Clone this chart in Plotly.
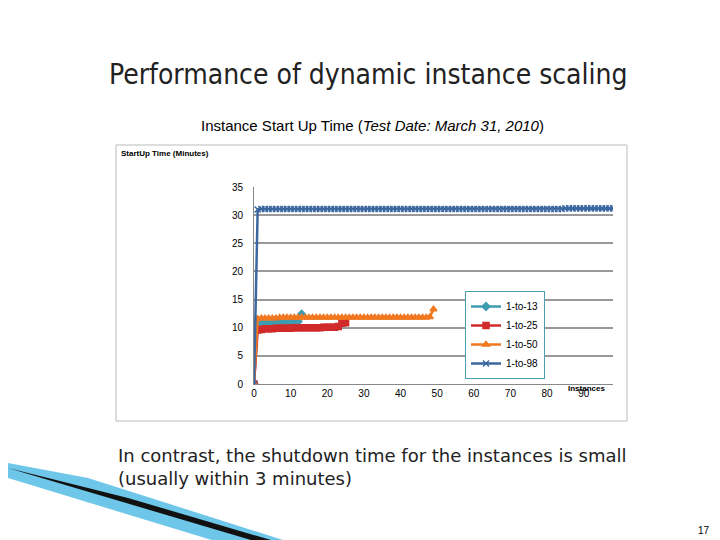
import plotly.graph_objects as go

x13 = list(range(0, 14))
y13 = [0, 10.6, 10.7, 10.7, 10.8, 10.8, 10.8, 10.9, 10.9, 10.9, 11.0, 11.0, 11.1, 12.4]
x25 = list(range(0, 26))
y25 = [0, 9.6, 9.7, 9.8, 9.8, 9.8, 9.9, 9.9, 9.9, 9.9, 9.9, 10.0, 10.0, 10.0, 10.0, 10.0,
       10.0, 10.0, 10.0, 10.1, 10.1, 10.1, 10.1, 10.2, 10.8, 10.9]
x50 = list(range(0, 50))
y50 = [0, 11.6, 11.7, 11.7, 11.7, 11.7, 11.7, 11.8, 11.8, 11.8, 11.8, 11.8, 11.8, 11.8, 11.8, 11.8,
       11.8, 11.8, 11.8, 11.8, 11.8, 11.8, 11.8, 11.8, 11.8, 11.8, 11.8, 11.8, 11.8, 11.8, 11.8,
       11.8, 11.8, 11.8, 11.8, 11.8, 11.8, 11.8, 11.8, 11.8, 11.8, 11.8, 11.8, 11.8, 11.8, 11.8,
       11.8, 11.8, 11.9, 13.3]
x98 = list(range(0, 99))
y98 = [0, 31.0, 31.1, 31.1, 31.1, 31.1, 31.1, 31.1, 31.1, 31.1,
       31.1, 31.1, 31.1, 31.1, 31.1, 31.1, 31.1, 31.1, 31.1, 31.1,
       31.1, 31.1, 31.1, 31.1, 31.1, 31.1, 31.1, 31.1, 31.1, 31.1,
       31.1, 31.1, 31.1, 31.1, 31.1, 31.1, 31.1, 31.1, 31.1, 31.1,
       31.1, 31.1, 31.1, 31.1, 31.1, 31.1, 31.1, 31.1, 31.1, 31.1,
       31.1, 31.1, 31.1, 31.1, 31.1, 31.1, 31.1, 31.1, 31.1, 31.1,
       31.1, 31.1, 31.1, 31.1, 31.1, 31.1, 31.1, 31.1, 31.1, 31.1,
       31.1, 31.1, 31.1, 31.1, 31.1, 31.1, 31.1, 31.1, 31.1, 31.1,
       31.1, 31.1, 31.1, 31.1, 31.1, 31.2, 31.2, 31.2, 31.2, 31.2,
       31.2, 31.2, 31.2, 31.2, 31.2, 31.2, 31.2, 31.2, 31.2]

series = [
    ("1-to-13", x13, y13, "#3F9CB0", "diamond"),
    ("1-to-25", x25, y25, "#D02A2A", "square"),
    ("1-to-50", x50, y50, "#F07820", "triangle-up"),
    ("1-to-98", x98, y98, "#3C67A0", "x-thin-open"),
]

fig = go.Figure()
for name, xs, ys, c, sym in series:
    fig.add_trace(go.Scatter(x=xs, y=ys, name=name, mode="lines+markers",
                             line=dict(color=c, width=2.5),
                             marker=dict(symbol=sym, size=6, color=c, line=dict(color=c, width=1.5))))

W, H = 720, 540
def px(x): return x / W
def py(y): return 1 - y / H

def ann(text, x, y, size, xanchor="center", yanchor="middle", **kw):
    return dict(text=text, x=px(x), y=py(y), xref="paper", yref="paper", showarrow=False,
                xanchor=xanchor, yanchor=yanchor, font=dict(size=size, **kw.pop("font", {})), **kw)

fig.update_layout(
    width=W, height=H, margin=dict(l=0, r=0, t=0, b=0, autoexpand=False),
    paper_bgcolor="white", plot_bgcolor="white",
    font=dict(family="Liberation Sans", color="black"),
    xaxis=dict(domain=[px(246), px(605)], range=[0, 98], tickvals=[0, 10, 20, 30, 40, 50, 60, 70, 80, 90],
               showgrid=False, showline=True, linecolor="#888", ticks="", tickfont=dict(size=10),
               automargin=False),
    yaxis=dict(domain=[py(376), py(179)], range=[0, 35], dtick=5, showgrid=True, gridcolor="#999",
               gridwidth=1.5, showline=True, linecolor="#888", tickfont=dict(size=10), ticklabelstandoff=8,
               automargin=False),
    legend=dict(x=px(457), y=py(283), xanchor="left", yanchor="top", bordercolor="#4AA0B0",
                borderwidth=1, bgcolor="white", font=dict(size=10), tracegroupgap=2),
    shapes=[
        dict(type="rect", xref="paper", yref="paper", x0=px(108), x1=px(619), y0=py(413), y1=py(137),
             line=dict(color="#BBB", width=1)),
        dict(type="path", xref="paper", yref="paper",
             path=f"M {px(0)} {py(455)} L {px(80)} {py(470)} L {px(300)} {py(540)} L {px(230)} {py(540)} L {px(0)} {py(470)} Z",
             fillcolor="#6EC6E8", line=dict(width=0)),
        dict(type="path", xref="paper", yref="paper",
             path=f"M {px(0)} {py(460)} L {px(120)} {py(490)} L {px(290)} {py(540)} L {px(270)} {py(540)} Z",
             fillcolor="#111", line=dict(width=0)),
    ],
    annotations=[
        ann("Performance of dynamic instance scaling", 360, 66, 28, font=dict(family="DejaVu Sans Condensed", color="#222")),
        ann("Instance Start Up Time (<i>Test Date: March 31, 2010</i>)", 364, 117, 15),
        ann("<b>StartUp Time (Minutes)</b>", 111, 145, 8, xanchor="left"),
        ann("<b>Instances</b>", 578, 380, 8),
        ann("In contrast, the shutdown time for the instances is small<br>(usually within 3 minutes)",
            108, 435, 18, xanchor="left", yanchor="top", align="left",
            font=dict(family="DejaVu Sans", color="#222")),
        ann("17", 696, 522, 10),
    ],
)
fig.write_html("out.html")
